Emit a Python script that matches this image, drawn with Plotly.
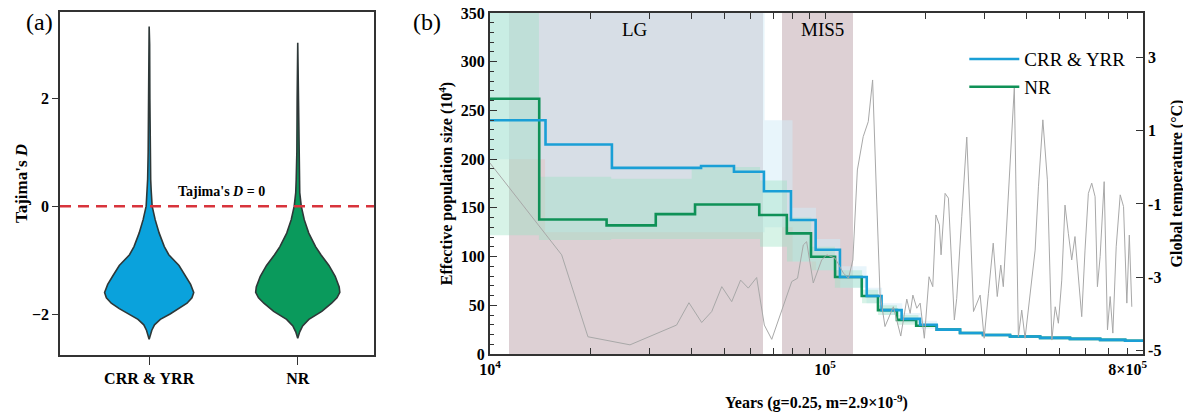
import math
import plotly.graph_objects as go

FONT = "Liberation Serif"

# ---------------- Panel (a): Tajima's D violin profiles ----------------
CATEGORIES = ["CRR & YRR", "NR"]
CRR_Y = [3.33, 3.0, 2.0, 1.0, 0.5, 0.3, 0.0, -0.25, -0.5, -0.75, -0.9, -1.1, -1.3, -1.45, -1.6, -1.7, -1.8, -1.9, -2.0, -2.1, -2.2, -2.3, -2.47]
CRR_DENS = [0, 0.011, 0.016, 0.022, 0.034, 0.045, 0.067, 0.135, 0.225, 0.34, 0.44, 0.67, 0.82, 0.93, 1.0, 0.96, 0.85, 0.67, 0.47, 0.25, 0.12, 0.06, 0]
NR_Y = [3.03, 2.0, 1.0, 0.5, 0.25, 0.0, -0.25, -0.5, -0.75, -0.9, -1.1, -1.3, -1.5, -1.6, -1.7, -1.8, -1.95, -2.1, -2.22, -2.33, -2.45]
NR_DENS = [0, 0.013, 0.02, 0.034, 0.045, 0.079, 0.146, 0.247, 0.40, 0.52, 0.70, 0.84, 0.93, 0.944, 0.88, 0.76, 0.54, 0.25, 0.11, 0.045, 0]

# ---------------- Panel (b): PSMC-like step curves ----------------
BLUE_YEARS = [10000, 14650, 23120, 42660, 53490, 65720, 79140, 93760, 110800, 133200, 147500, 169300, 192200, 215500, 252900, 296200, 356500, 438500, 538300, 662300, 786600, 890000]
BLUE_NE = [240, 215, 191, 193, 187, 167, 137.5, 107, 79, 59.5, 45, 36, 30, 25, 21.5, 19.5, 18, 16.5, 15.5, 14.5, 13.5, 13]
GREEN_YEARS = [10000, 14030, 22290, 31250, 40930, 63640, 76920, 90810, 107150, 128700, 143900, 163900, 187100, 215500, 252900, 296200, 356500, 438500, 538300, 662300, 786600, 890000]
GREEN_NE = [262, 138, 132, 143.6, 153.5, 142.6, 123.8, 99.8, 79, 59.5, 45, 35, 29, 25, 21.5, 19.5, 18, 16.5, 15.5, 14.5, 13.5, 13]

# bootstrap envelopes (step edges)
BLUE_BAND_YEARS = [10000, 14600, 66000, 80000, 94000, 111000, 133000, 148000, 170000, 193000, 216000]
BLUE_BAND_UP = [350, 350, 240, 150, 118, 90, 68, 52, 42, 34]
BLUE_BAND_LO = [200, 125, 130, 95, 86, 68, 52, 40, 32, 26]
GREEN_BAND_YEARS = [10000, 14000, 23000, 40000, 64000, 77000, 91000, 107000, 129000, 144000, 164000, 190000]
GREEN_BAND_UP = [350, 182, 180, 192, 178, 140, 110, 86, 66, 50, 40]
GREEN_BAND_LO = [122, 117, 118, 118, 110, 95, 86, 68, 52, 40, 30]

# climate periods
PERIODS = ["LG", "MIS5"]
PERIOD_START = [11400, 74400]
PERIOD_END = [65300, 121200]
PERIOD_LABEL_X = [27100, 98000]

# global temperature
TEMP_YEARS = [10000, 16370, 19610, 26180, 36060, 39260, 42850, 45910, 49190, 52670,
              55980, 59020, 62520, 65900, 69340, 74300, 79570, 82790, 86130, 88130,
              92230, 97720, 101200, 107150, 113500, 117500, 121100, 124900, 130000, 134600,
              138700, 142600, 145900, 151000, 159900, 168300, 175400, 179500, 182900, 187900,
              192300, 197900, 204400, 209700, 214300, 219400, 222000, 228200, 233500, 243200,
              247200, 255900, 264900, 271100, 277400, 290400, 298500, 307400, 317700, 326600,
              334600, 340500, 348500, 356500, 367300, 377600, 386400, 395400, 404600, 414000,
              423700, 433500, 446800, 460900, 475300, 486400, 497100, 508800, 520300, 532300,
              544800, 557200, 570200, 583600, 597000, 610900, 625200, 639700, 650100, 662300,
              680900, 696600, 709600, 722800, 739600, 760300, 777900, 795700, 809400, 823400]
TEMP = [0.12, -2.39, -4.63, -4.85, -4.31, -3.70, -4.24, -3.94, -3.26, -3.67,
        -3.08, -3.30, -3.01, -4.31, -4.70, -3.90, -3.12, -3.03, -2.12, -2.03,
        -3.16, -2.53, -2.39, -2.48, -2.89, -3.03, -2.53, -0.07, 0.84, 1.25,
        2.39, -0.89, -3.44, -4.35, -3.81, -4.61, -3.60, -3.99, -3.49, -3.85,
        -3.71, -4.67, -2.99, -3.26, -1.30, -1.57, -2.39, -0.71, -0.84, -4.17,
        -3.58, -1.35, 0.83, -1.44, -3.94, -3.49, -4.67, -3.44, -2.07, -3.53,
        -2.67, -3.26, -1.62, -0.16, 2.20, -4.63, -3.90, -4.67, -3.81, -3.08,
        -2.26, -0.53, 1.30, -0.34, -4.72, -3.81, -4.26, -3.08, -1.03, -1.80,
        -2.53, -1.89, -3.08, -4.08, -2.26, -0.71, -0.43, -0.80, -3.26, -2.44,
        -0.39, -4.44, -3.53, -4.53, -2.17, -0.75, -1.07, -3.71, -1.85, -3.81]

TEMP_TICKS = [3, 1, -1, -3, -5]

# ---------------- styles ----------------
BLUE = "#1a9fd6"
GREEN = "#0f9157"
VIOLIN_BLUE = "#0aa2dc"
VIOLIN_GREEN = "#0a9a5c"
PINK = "#ddd0d4"
VIOLIN_HALF_WIDTH = 0.30

fig = go.Figure()


def violin_shape(center, ys, dens):
    right = [center + d * VIOLIN_HALF_WIDTH for d in dens]
    left = [center - d * VIOLIN_HALF_WIDTH for d in dens]
    return right + left[::-1], list(ys) + list(ys)[::-1]


for i, (ys, ds, col) in enumerate([(CRR_Y, CRR_DENS, VIOLIN_BLUE), (NR_Y, NR_DENS, VIOLIN_GREEN)]):
    vx, vy = violin_shape(i, ys, ds)
    fig.add_trace(go.Scatter(x=vx, y=vy, fill="toself", fillcolor=col, mode="lines",
                             line=dict(color="#2e3838", width=1.6), showlegend=False,
                             hoverinfo="skip", xaxis="x", yaxis="y"))

# period shading
for s, e in zip(PERIOD_START, PERIOD_END):
    fig.add_trace(go.Scatter(x=[s, e, e, s, s], y=[0, 0, 350, 350, 0], fill="toself",
                             fillcolor=PINK, mode="lines", line=dict(width=0),
                             showlegend=False, hoverinfo="skip", xaxis="x2", yaxis="y2"))


def step_band(xs, up, lo):
    px, py = [], []
    for i in range(len(up)):
        px += [xs[i], xs[i + 1]]
        py += [up[i], up[i]]
    qx, qy = [], []
    for i in range(len(lo)):
        qx += [xs[i], xs[i + 1]]
        qy += [lo[i], lo[i]]
    return px + qx[::-1], py + qy[::-1]


bx, by = step_band(BLUE_BAND_YEARS, BLUE_BAND_UP, BLUE_BAND_LO)
fig.add_trace(go.Scatter(x=bx, y=by, fill="toself", fillcolor="rgba(209,236,248,0.5)",
                         mode="lines", line=dict(width=0), showlegend=False,
                         hoverinfo="skip", xaxis="x2", yaxis="y2"))
gx, gy = step_band(GREEN_BAND_YEARS, GREEN_BAND_UP, GREEN_BAND_LO)
fig.add_trace(go.Scatter(x=gx, y=gy, fill="toself", fillcolor="rgba(156,225,195,0.4)",
                         mode="lines", line=dict(width=0), showlegend=False,
                         hoverinfo="skip", xaxis="x2", yaxis="y2"))

fig.add_trace(go.Scatter(x=GREEN_YEARS, y=GREEN_NE, mode="lines", line_shape="hv",
                         line=dict(color=GREEN, width=2.6), name="NR", legendrank=2,
                         xaxis="x2", yaxis="y2"))
fig.add_trace(go.Scatter(x=BLUE_YEARS, y=BLUE_NE, mode="lines", line_shape="hv",
                         line=dict(color=BLUE, width=2.6), name="CRR & YRR", legendrank=1,
                         xaxis="x2", yaxis="y2"))

fig.add_trace(go.Scatter(x=TEMP_YEARS, y=TEMP, mode="lines",
                         line=dict(color="#a8a8a8", width=1), showlegend=False,
                         hoverinfo="skip", xaxis="x2", yaxis="y3"))

tick_font = dict(family=FONT, size=16, color="black", weight="bold")
title_font = dict(family=FONT, size=16, color="black", weight="bold")

# page body adds an 8px offset; margins compensate so plot area sits at 60..1143 x 12..355
fig.update_layout(
    width=1191, height=416,
    margin=dict(l=52, r=56, t=4, b=69),
    paper_bgcolor="white", plot_bgcolor="rgba(0,0,0,0)",
    font=dict(family=FONT, color="black"),
    showlegend=True,
    legend=dict(x=0.835, y=0.918, xanchor="left", yanchor="top", itemwidth=50,
                font=dict(family=FONT, size=19, color="black"),
                bgcolor="rgba(0,0,0,0)", tracegroupgap=0),
    xaxis=dict(domain=[0, 0.2899], range=[-0.6, 1.513], tickvals=[0, 1], ticktext=CATEGORIES,
               ticks="outside", ticklen=8, tickwidth=1.3, tickcolor="#333",
               showline=True, linecolor="#333", linewidth=1.5, mirror=True,
               showgrid=False, zeroline=False, tickfont=tick_font, automargin=False,
               ticklabeloverflow="allow"),
    yaxis=dict(domain=[0, 1], range=[-2.76, 3.6], tickvals=[-2, 0, 2],
               ticks="outside", ticklen=6, tickwidth=1.3, tickcolor="#333",
               showline=True, linecolor="#333", linewidth=1.5, mirror=True,
               showgrid=False, zeroline=False, tickfont=tick_font, automargin=False,
               ticklabeloverflow="allow",
               title=dict(text="Tajima's <i>D</i>", font=dict(family=FONT, size=17, color="black", weight="bold"), standoff=0)),
    xaxis2=dict(domain=[0.397, 1], type="log", range=[4, 5.949], anchor="y2",
                tickvals=[1e4, 1e5, 8e5], ticktext=["10<sup>4</sup>", "10<sup>5</sup>", "8×10<sup>5</sup>"],
                ticks="inside", ticklen=6, tickwidth=1.2, tickcolor="#333",
                minor=dict(tickvals=[2e4, 3e4, 4e4, 5e4, 6e4, 7e4, 8e4, 9e4, 2e5, 3e5, 4e5, 5e5, 6e5, 7e5],
                           ticks="inside", ticklen=5, tickcolor="#333", tickwidth=1),
                showline=True, linecolor="#333", linewidth=1.8, mirror="allticks",
                showgrid=False, zeroline=False, tickfont=tick_font, automargin=False,
                ticklabeloverflow="allow",
                title=dict(text="Years (g=0.25, m=2.9×10<sup>-9</sup>)", font=title_font, standoff=20)),
    yaxis2=dict(domain=[0.003, 0.997], range=[0, 350], tickvals=[0, 50, 100, 150, 200, 250, 300, 350],
                anchor="x2",
                ticks="inside", ticklen=7, tickwidth=1.2, tickcolor="#333",
                minor=dict(dtick=10, ticks="inside", ticklen=4, tickcolor="#333", tickwidth=1),
                showline=True, linecolor="#333", linewidth=1.8,
                showgrid=False, zeroline=False, tickfont=tick_font, automargin=False,
                ticklabeloverflow="allow",
                title=dict(text="Effective population size (10<sup>4</sup>)", font=title_font, standoff=4)),
    yaxis3=dict(domain=[0.003, 0.997], range=[-5.10, 4.22], overlaying="y2", side="right", anchor="x2",
                tickvals=TEMP_TICKS, ticktext=[str(t) for t in TEMP_TICKS],
                ticks="inside", ticklen=7, tickwidth=1.2, tickcolor="#333",
                showline=True, linecolor="#333", linewidth=1.8,
                showgrid=False, zeroline=False, tickfont=tick_font, automargin=False,
                ticklabeloverflow="allow",
                title=dict(text="Global temperature (°C)", font=title_font, standoff=10)),
)

# Tajima's D = 0 reference line
fig.add_shape(type="line", xref="x domain", yref="y", x0=0, x1=1, y0=0, y1=0,
              line=dict(color="#d8343c", width=2.5, dash="11px,7px"), layer="above")
fig.add_annotation(x=0.49, y=0.27, xref="x", yref="y", text="Tajima's <i>D</i> = 0",
                   showarrow=False, font=dict(family=FONT, size=14, color="black", weight="bold"))

for name, xl in zip(PERIODS, PERIOD_LABEL_X):
    fig.add_annotation(x=math.log10(xl), y=0.95, xref="x2", yref="paper", text=name,
                       showarrow=False, yanchor="middle",
                       font=dict(family=FONT, size=19, color="black"))

fig.add_annotation(x=-0.0332, y=0.97, xref="paper", yref="paper", text="(a)", showarrow=False,
                   yanchor="middle", font=dict(family=FONT, size=24, color="black"))
fig.add_annotation(x=0.3389, y=0.97, xref="paper", yref="paper", text="(b)", showarrow=False,
                   yanchor="middle", font=dict(family=FONT, size=24, color="black"))

fig.write_html("out.html")
